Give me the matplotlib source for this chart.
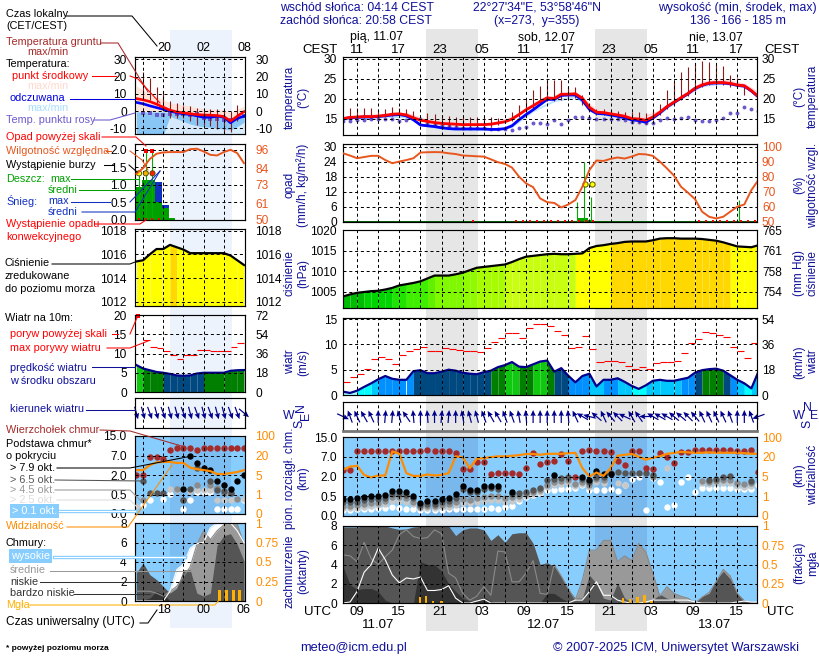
import matplotlib
matplotlib.use('Agg')
import matplotlib.pyplot as plt
import numpy as np
from matplotlib.patches import Rectangle

plt.rcParams['font.family'] = ['Liberation Sans', 'DejaVu Sans']
nan = np.nan

# --- main panels, hours since 07 UTC 11.07 ---
temp_mid = [15.0,15.3,15.4,15.5,15.5,15.6,15.8,16.1,16.2,15.9,15.2,14.6,14.3,14.0,13.8,13.7,13.6,13.5,13.5,13.5,
            13.5,13.6,13.9,14.2,14.9,16.0,17.2,18.2,19.3,20.2,20.0,21.1,21.1,21.2,20.1,17.8,16.6,16.5,16.2,15.9,
            15.6,15.0,14.9,14.6,15.4,16.6,18.0,19.1,20.2,21.3,22.6,23.4,23.9,24.0,24.0,23.8,23.4,23.2,22.0,20.5]
temp_feel = [15.0,15.2,15.3,15.4,15.4,15.5,15.7,15.9,16.0,15.7,14.7,13.4,13.2,13.0,12.7,12.5,12.4,12.4,12.4,12.4,
             12.4,12.3,12.3,12.5,13.2,14.7,16.0,17.2,18.5,19.8,19.8,20.8,20.9,20.9,19.6,17.3,16.3,16.2,15.9,15.6,
             15.2,14.7,14.5,14.1,15.1,16.4,17.9,19.0,20.1,21.2,22.5,23.3,23.8,23.9,23.9,23.7,23.3,23.1,21.9,20.4]
temp_band_h = [0,3,6,9,12,15,18,21,24,27,30,33,36,39,42,45,48,51,54,57,59]
temp_upper = [15.5,16.1,16.4,16.6,14.9,14.2,14.0,14.1,15.6,19.0,21.0,21.8,17.4,16.5,15.4,17.2,21.0,24.4,25.0,23.9,21.8]
temp_lower = [14.6,15.1,15.3,15.2,12.9,12.1,12.0,12.0,12.8,16.7,19.2,20.2,16.0,15.2,14.1,16.1,20.0,23.0,23.6,22.8,20.6]
dew_point = [14.4,14.4,14.6,14.7,14.9,15.0,15.0,14.8,14.5,14.7,15.1,14.9,14.0,13.6,13.4,13.1,12.9,12.7,12.6,12.6,
             12.6,12.5,12.4,12.3,12.2,12.6,13.0,13.8,13.8,13.6,14.6,13.6,14.6,15.4,15.4,15.2,15.0,15.0,15.0,15.0,
             14.6,14.2,14.2,14.0,14.0,14.7,15.2,15.0,15.2,15.5,14.6,14.3,14.3,14.6,15.2,16.5,16.5,17.9,17.4,17.0]
ground_max = [nan,17.75,17.75,17.75,17.75,17.25,17.5,17.9,17.75,17.5,16.9,nan,16.3,16.1,15.8,15.7,15.4,15.4,15.4,15.4,
              15.4,15.4,15.2,nan,16.7,18.3,19.6,22.1,23.1,24.6,24.6,24.75,22.9,22.9,20.8,18.75,17.5,17.5,17.1,16.9,
              16.7,16.7,16.7,16.4,16.9,18.75,22.1,24.2,26.7,27.9,29.0,29.3,29.2,28.75,28.1,25.8,25.25,22.9,nan,nan]
ground_min = [nan,15.0,15.1,15.2,15.2,15.2,15.4,15.7,15.8,15.5,14.6,nan,13.3,13.2,13.0,13.0,12.9,12.9,12.9,12.9,
              12.9,13.0,13.3,nan,14.4,15.5,16.6,17.6,18.6,19.5,19.3,19.6,20.0,20.2,18.5,17.2,15.9,15.8,15.5,15.2,
              14.8,14.2,14.0,13.6,14.7,15.9,17.4,18.5,19.6,20.7,22.0,22.9,23.3,23.4,23.4,22.9,22.6,21.0,nan,nan]
humidity = [95.5,94.0,92.2,93.0,93.8,93.8,91.0,88.9,90.0,91.0,92.2,96.0,96.2,96.3,96.2,95.5,95.0,94.0,93.8,93.5,
            93.3,91.5,89.6,88.4,86.0,80.0,75.5,73.0,65.5,63.0,62.5,59.5,61.5,64.4,73.3,84.4,90.7,90.4,91.8,92.7,
            92.0,93.3,95.0,94.8,93.8,90.0,85.5,80.7,73.3,69.3,65.0,56.7,53.3,52.2,53.3,56.7,60.0,61.5,71.0,77.8]
rain_max_h = [33.2,34.2,35.2,56.25]
rain_max = [8.0,23.7,10.0,8.7]
rain_mean_h = [33.8,34.3,35.0,36.3,37.2]
rain_mean = [1.3,1.3,0.5,0.4,0.3]
conv_h = [18.5,24.5,25.5,26.5,27.5,28.5,29.5,30.5,31.5,32.5,33.5,34.5,35.5,50.5,51.5,52.5,53.5,54.5,55.5,56.5,57.5,58.5]
storm_h = [34.4,35.4]
storm_mm = [15.0,15.0]
pressure = [1003.9,1004.4,1004.8,1005.0,1005.2,1005.3,1005.6,1006.0,1006.6,1006.9,1007.2,1007.6,1008.3,1009.0,1009.0,1009.0,
            1009.3,1009.7,1010.3,1010.9,1011.1,1011.3,1011.5,1011.7,1012.3,1013.0,1013.6,1013.8,1014.0,1014.2,1014.3,1014.2,
            1014.2,1014.3,1014.4,1015.7,1016.2,1016.4,1016.7,1016.9,1017.2,1017.3,1017.3,1017.3,1017.6,1018.0,1018.1,1018.1,
            1018.0,1018.0,1018.0,1017.9,1017.7,1017.5,1017.1,1016.6,1016.1,1016.0,1015.9,1016.4]
wind_speed = [0.66,0.4,0.85,1.6,2.3,3.1,3.75,3.2,3.0,3.0,4.7,4.9,4.3,4.3,4.6,5.0,4.8,4.4,4.2,4.1,
              4.5,4.8,5.5,5.9,6.5,5.6,5.5,6.05,6.6,6.8,4.6,5.3,3.8,2.5,3.75,4.2,1.7,3.0,3.0,3.3,
              2.6,1.8,1.2,1.9,2.8,3.0,2.8,2.8,3.1,3.4,4.4,4.9,5.1,5.2,4.8,3.9,3.0,2.3,1.3,4.6]
gust = [2.5,3.5,4.1,5.1,7.2,7.6,7.2,6.2,7.8,8.6,9.1,9.4,8.6,8.6,9.2,9.0,8.8,8.6,8.6,8.4,
        9.2,10.4,11.2,12.2,12.2,11.3,13.2,14.1,14.1,13.6,12.6,11.8,9.3,9.4,11.6,9.1,6.5,6.8,6.7,6.5,
        5.7,5.1,5.5,5.1,6.3,6.5,6.5,6.7,8.3,10.2,11.0,12.4,12.2,11.8,11.4,9.4,8.6,7.4,10.2]
wind_dir = [115,340,335,330,335,0,5,5,345,325,355,0,355,0,5,5,0,350,345,345,
            340,330,330,340,340,350,355,0,0,0,0,0,355,335,300,285,310,335,320,315,
            295,330,325,270,300,300,300,310,310,315,320,335,335,335,335,340,0,0,340,250]
# cloud levels: position on the uneven axis 0 / 0.5 / 2 / 7 / 15 km -> 0..4
cl_top = [2.34,2.34,3.3,3.3,3.3,3.3,3.3,3.3,3.3,3.3,3.3,3.3,3.35,3.3,3.3,3.3,3.2,2.4,2.38,2.73,
          2.73,2.14,2.17,2.17,2.17,2.14,2.42,3.2,2.63,2.73,2.76,3.14,2.76,2.0,3.3,3.36,3.3,3.3,3.25,2.76,
          2.56,3.3,3.3,2.42,2.37,3.2,2.98,2.68,3.25,3.25,3.32,3.32,3.32,3.32,3.32,3.32,3.3,3.27,3.32,2.25]
cl_black = [.86,.86,.9,.98,1.03,1.02,1.07,1.25,1.29,1.24,1.03,.68,.76,.78,.86,.9,1.12,1.5,1.32,1.32,
            1.5,1.53,1.5,nan,1.24,nan,nan,nan,nan,nan,2.08,nan,nan,nan,1.97,1.83,2.29,2.12,2.15,nan,
            nan,nan,nan,nan,nan,nan,nan,nan,nan,nan,nan,nan,nan,nan,nan,nan,nan,nan,nan,nan]
cl_dark = [.7,.7,.72,.8,.85,.85,.9,1.1,1.1,1.05,.9,.58,.62,.62,.7,.75,.9,1.35,1.2,1.2,
           1.35,1.4,1.35,nan,1.1,1.18,1.24,1.32,1.41,1.83,1.87,1.92,2.0,nan,1.85,1.7,2.0,1.95,2.17,2.22,
           2.17,2.17,2.17,2.17,2.08,nan,nan,nan,nan,nan,nan,nan,1.83,1.87,1.97,2.05,nan,nan,1.75,nan]
cl_gray = [.52,.52,.55,.62,.68,.68,.75,.95,.95,.9,.7,.48,.5,.5,.55,.6,.72,.85,.8,.9,
           .98,1.0,1.0,.9,.95,1.0,1.1,1.2,1.3,1.55,1.72,1.75,1.8,1.6,1.7,1.55,1.85,1.8,nan,nan,
           nan,nan,nan,nan,1.95,nan,nan,nan,nan,nan,nan,1.75,1.7,1.75,1.8,1.8,1.65,1.6,1.68,nan]
cl_light = [.4,.4,.42,.48,.52,.55,.6,.75,.75,.72,.6,.4,.42,.42,.45,.48,.55,.65,.65,.7,
            .78,.8,.8,.7,.75,.85,1.0,1.1,1.22,1.45,1.55,1.6,1.65,1.52,1.62,1.45,1.72,1.65,nan,1.65,
            1.58,nan,nan,nan,nan,nan,2.42,nan,nan,nan,nan,1.65,1.6,1.65,1.65,1.65,1.5,1.45,1.5,nan]
cl_white = [.3,.3,.34,.34,.34,.39,.42,.47,.42,.36,.34,.29,.3,.3,.32,.34,.34,.36,.36,.36,
            .36,.39,.36,.44,.5,.78,.98,1.07,1.15,1.32,1.32,1.36,1.36,1.44,1.58,1.32,1.32,1.32,1.36,1.29,
            1.58,1.86,1.95,.3,1.92,1.7,.47,.56,1.7,1.97,1.24,1.44,1.4,1.44,1.44,1.4,1.36,1.36,1.36,1.58]
visibility = [2.34,2.5,2.54,2.08,1.95,2.05,2.05,3.27,3.15,2.17,2.03,2.03,2.1,2.05,2.08,2.17,3.02,2.97,2.42,2.9,
              2.93,2.98,3.02,3.02,3.05,3.08,3.14,3.14,3.1,3.15,3.15,3.15,3.18,3.2,2.42,2.0,2.2,2.03,2.42,3.05,
              3.1,3.14,3.0,2.85,2.95,3.02,3.15,3.19,3.25,3.22,3.2,3.2,3.22,3.2,3.2,3.2,3.2,3.18,3.15,3.15]
cov_low = [7.9,7.9,7.9,8.0,8.0,8.0,8.0,7.8,7.65,7.7,7.9,7.95,8.0,8.0,8.0,8.0,7.0,7.6,7.8,7.8,
           7.6,6.5,7.1,6.3,7.2,7.3,7.3,6.2,4.0,4.2,3.8,2.7,1.4,0.5,0.5,2.9,2.0,0.5,0.3,2.1,
           0.5,0.1,0,0,0.3,0.9,0.5,0.3,0,0,0.1,0.7,1.0,2.4,3.3,2.5,1.0,0.3,0.1,0]
cov_mid = [5.0,4.9,4.3,6.3,4.6,4.0,4.8,5.5,7.1,7.6,6.9,6.7,6.8,7.6,7.2,3.1,2.6,1.0,0.3,0.7,
           1.7,0.8,5.4,5.3,2.2,2.2,3.1,4.4,1.0,0.9,4.0,2.8,1.5,0.3,2.4,5.5,5.5,6.5,6.5,4.3,
           4.9,4.4,6.2,5.3,3.1,0.7,1.7,1.0,0.7,0.5,0,0.6,1.1,2.2,3.5,2.8,1.0,0.2,0.1,0]
cov_high = [0,0.1,1.2,3.2,4.0,5.7,4.5,2.9,2.1,2.6,2.5,2.7,1.3,1.3,1.4,1.8,0.5,0,0,0.2,
            0.4,0,0,0,0,0,0,0,0,0,0,0,0,0.3,0.3,1.2,2.2,0.8,0.8,0.3,
            0.1,0,0,0.1,0.3,0.3,0.3,0.3,0.3,0.3,0.1,0,0,0,0,0,0.1,0.2,0.1,0.1]
cov_vlow = [3.8,1.9,1.4,1.5,1.5,1.2,0.3,0,0,0,0,4.3,4.0,4.0,3.3,2.0,1.2,0.5,0.2,0.3,
            0.6,0.2,0,0,0,0,0,0,0,1.0,1.0,0.5,0.1,0,0,0,0,0,0,0,
            0,0,0,0,0,0,0,0,0,0,0,0,0,0,0,0,0,0,0,0]
fog_h = [10.9,11.8,12.8,14.0,39.8,40.8,41.8,42.8,43.8]
fog_frac = [0.08,0.09,0.03,0.03,0.07,0.05,0.08,0.1,0.03]

# --- left panels (previous run), hours since 14 UTC ---
l_temp_mid = [7.2,6.5,5.5,4.0,2.2,0.5,-0.5,-1.0,-1.6,-2.0,-2.3,-2.4,-2.6,-3.2,-5.8,-3.0,-0.4]
l_temp_feel = [5.0,4.2,3.0,2.0,1.0,0.0,-1.0,-1.6,-2.0,-2.8,-3.6,-3.6,-3.0,-3.5,-6.8,-4.2,-3.0]
l_pink_top = [14.6,12.0,10.4,8.5,6.7,4.8,4.2,3.5,2.9,1.9,1.3,1.0,1.0,0.4,-1.0,1.0,2.9]
l_blue_top = [-0.5,-0.5,-0.5,-0.5,-0.5,-0.7,-1.5,-2.0,-2.5,-3.0,-3.6,-3.6,-3.5,-4.0,-7.0,-4.5,-3.0]
l_blue_low = [-14,-14,-14,-14,-14,-3,-4.5,-6,-7.5,-8.5,-9,-9.5,-10,-10.5,-11,-9,-6.5]
l_dew = [nan,-1.0,-1.0,-2.3,-2.3,-2.0,-1.8,-2.0,-2.3,-2.0,-3.8,-4.4,-4.8,-5.2,-5.2,-4.2,-2.9]
l_ground_max = [nan,22.7,19.0,14.2,11.5,6.0,4.8,2.9,2.9,1.9,1.3,1.3,1.0,1.0,0.0,3.4,nan]
l_ground_min = [nan,7.0,6.5,3.5,2.8,-3.8,-3.8,-3.8,-5.8,-8.2,-8.2,-8.6,-10.5,-12.0,-12.0,-5.8,nan]
l_humidity = [80.2,84.0,90.0,93.4,94.3,94.5,94.5,94.5,96.4,96.7,94.9,92.7,92.3,94.5,96.0,93.8,87.2]
l_rain = [0.95,1.15,1.15,0.5,0.35,0.07]
l_snow = [0,0,0,1.08,0.42,0]
l_rain_max_h = [0.4,1.4,2.4]
l_rain_max = [1.33,2.0,2.0]
l_storm_colors = ['#ffff00','#f0b000','#ff2000']
l_pressure = [1015.4,1015.5,1016.0,1016.45,1016.45,1016.8,1016.6,1016.4,1016.1,1016.1,1016.1,1016.1,1016.1,1016.1,1015.9,1015.5,1015.1]
l_wind = [7.0,6.1,5.65,5.2,5.0,4.7,4.3,4.2,4.3,4.8,5.0,5.0,5.0,5.0,5.5,5.65,5.7]
l_gust = [13.5,11.7,11.5,10.6,9.6,8.7,9.7,9.7,10.9,10.9,10.6,10.6,10.6,11.7,12.8]
l_dir = [165,165,160,165,160,165,165,160,165,160,165,160,165,165,160,160,130]
l_top = [2.0,2.0,2.9,2.9,2.8,3.26,3.36,3.36,3.36,3.26,3.36,3.36,3.36,3.36,3.36,3.36,3.36]
l_black = [nan,nan,nan,nan,nan,nan,nan,1.28,3.0,2.6,2.37,2.25,1.7,1.5,1.28,1.7,1.98]
l_dark = [nan,1.7,1.1,1.1,1.1,nan,nan,.7,1.28,2.37,nan,1.7,1.25,1.17,1.08,nan,nan]
l_gray = [nan,.7,nan,nan,nan,nan,1.28,.7,nan,1.5,nan,1.5,1.33,1.08,1.08,.77,nan]
l_light = [.42,nan,nan,nan,nan,1.28,1.25,nan,1.17,1.25,1.25,1.25,.7,.7,.7,nan,.77]
l_white = [nan,.47,.7,nan,.75,1.05,nan,.25,.7,1.13,1.13,1.13,.25,.25,.25,.25,.7]
l_vis = [2.25,2.25,2.5,2.65,2.67,2.67,2.62,2.62,2.38,2.3,2.25,2.2,2.05,2.05,2.1,2.15,2.25]
l_cov_low = [2.9,3.9,2.7,2.2,1.5,0.8,1.3,3.2,3.2,0.8,0.5,0.8,5.7,6.7,6.9,5.8,4.1]
l_cov_mid = [1.0,1.0,1.0,0.8,0.5,1.0,1.5,2.5,3.5,5.8,7.2,6.3,7.2,7.8,8.0,7.9,5.8]
l_cov_high = [0,0,0,0,0,1.0,3.2,3.8,5.4,5.9,6.0,7.5,8.0,8.0,8.0,7.2,6.0]
l_cov_vlow = [0,0.1,0.3,1.0,0.7,0,0,0,0,0,0,0,0,0,0,0,0]
l_fog_h = [12.4,13.4,14.4,15.4]
l_fog_frac = [0.145,0.145,0.145,0.145]

W, H = 820, 660
BLUE_BG = '#87CEFF'
NAVY = '#10109a'
ORANGE = '#ff8c00'
BROWN = '#a52a2a'
HUM = '#e8561e'
TICK = 8.6

fig = plt.figure(figsize=(W / 100, H / 100), dpi=100)

bg = fig.add_axes([0, 0, 1, 1], zorder=0)
bg.set_xlim(0, W)
bg.set_ylim(H, 0)
bg.axis('off')
bg.add_patch(Rectangle((426, 29), 52, 602, color='#e6e6e6', lw=0))
bg.add_patch(Rectangle((595, 29), 52, 602, color='#e6e6e6', lw=0))
bg.add_patch(Rectangle((170, 30), 62, 598, color='#edf3fd', lw=0))

top = fig.add_axes([0, 0, 1, 1], zorder=10)
top.set_xlim(0, W)
top.set_ylim(H, 0)
top.axis('off')
top.patch.set_alpha(0)


def panel(x0, y0, x1, y1, xlim, gridx, ylim, ticks, labels, rticks, rlabels, rcolor='black', padl=4.3, padr=3.6):
    ax = fig.add_axes([x0 / W, 1 - y1 / H, (x1 - x0) / W, (y1 - y0) / H], zorder=2)
    ax.patch.set_alpha(0)
    ax.set_xlim(*xlim)
    ax.set_ylim(*ylim)
    ax.set_xticks(gridx)
    ax.set_xticklabels([])
    ax.set_yticks(ticks)
    ax.set_yticklabels(labels, fontsize=TICK)
    ax.tick_params(length=0, pad=padl)
    ax.set_axisbelow(False)
    ax.grid(True, color='black', lw=0.72, ls=(0, (3, 2.8)))
    for s in ax.spines.values():
        s.set_linewidth(0.85)
        s.set_zorder(8)
    if rticks is not None:
        ar = ax.twinx()
        ar.set_ylim(*ylim)
        ar.set_yticks(rticks)
        ar.set_yticklabels(rlabels, fontsize=TICK, color=rcolor)
        ar.tick_params(length=0, pad=padr)
        for s in ar.spines.values():
            s.set_visible(False)
    return ax


MX = (343, 757)
LX = (135, 245)
mxlim = (0, 58.8)
lxlim = (-0.2, 16.15)
mgrid = list(range(2, 58, 3))
lgrid = [1, 4, 7, 10, 13]
mh = np.arange(60)
lh = np.arange(17)


def pres_color(v):
    limits = [1004, 1005, 1006, 1007, 1008, 1009, 1010, 1011, 1012, 1014.3, 1016.7]
    colors = ['#00a000', '#00bc00', '#00d400', '#20e400', '#40ee00', '#60f000', '#80f800', '#90fa00', '#a8fc00',
              '#c8ff10', '#ffff00']
    for lim, c in zip(limits, colors):
        if v < lim:
            return c
    return '#ffd800'


def wind_color(v):
    limits = [1, 2, 3, 4, 5, 6, 7]
    colors = ['#a0ffff', '#00ffff', '#00c8ff', '#0090ff', '#004880', '#007f00', '#10c810']
    for lim, c in zip(limits, colors):
        if v < lim:
            return c
    return '#00e000'


def columns(ax, x, vals, color_of, base):
    # aliased edges so neighbouring columns leave no pale seam
    for i in range(len(x) - 1):
        ax.fill_between(x[i:i + 2], base, vals[i:i + 2], color=color_of((vals[i] + vals[i + 1]) / 2), lw=0,
                        antialiased=False)


def draw_pressure(ax, x, vals, base):
    columns(ax, x, vals, pres_color, base)
    ax.plot(x, vals, color='black', lw=1.6)


def draw_wind(ax, x, vals, gusts, gx):
    columns(ax, x, vals, wind_color, 0)
    ax.plot(x, vals, color='#00008b', lw=1.6)
    ax.hlines(gusts, gx, np.array(gx) + 1, color='red', lw=0.8)


def draw_dir(ax, x, angles):
    a = np.radians(angles)
    ax.quiver(x, np.full(len(x), 0.5), 13 * np.sin(a), 13 * np.cos(a), angles='uv', scale=1, scale_units='dots',
              units='dots', width=1.2, headwidth=4.5, headlength=5, headaxislength=4.5, pivot='mid',
              color='#00008b', clip_on=False, zorder=5)


def draw_base(ax, x, top_, black, dark, gray, light, white, vis, ms):
    for vals, c in zip([white, light, gray, dark, black, top_],
                       ['white', '#c8c8c8', '#8c8c8c', '#555555', 'black', BROWN]):
        ax.plot(x, vals, ls='none', marker='o', ms=ms, mfc=c, mec=c, mew=0, clip_on=True)
    ax.plot(x, vis, color=ORANGE, lw=1.6)


def draw_cover(ax, x, high, mid, low, vlow):
    ax.fill_between(x, 0, high, color='white', lw=0)
    ax.fill_between(x, 0, mid, color='#999999', lw=0)
    ax.fill_between(x, 0, low, color='#555555', lw=0)
    ax.fill_between(x, 0, vlow, color='#333333', lw=0)
    ax.plot(x, mid, color='#8a8a8a', lw=0.8)
    ax.plot(x, high, color='white', lw=0.8)


# ---- main column
ax = panel(*[MX[0], 57, MX[1], 135], mxlim, mgrid, (10.9, 30.4), [15, 20, 25, 30], ['15', '20', '25', '30'],
           [15, 20, 25, 30], ['15', '20', '25', '30'])
ax.fill_between(temp_band_h, np.interp(temp_band_h, mh, temp_mid), temp_upper, color='#ffd9d9', lw=0)
ax.fill_between(temp_band_h, temp_lower, np.interp(temp_band_h, mh, temp_feel), color='#c0e4ff', lw=0)
ax.plot(mh, dew_point, ls='none', marker='o', ms=2.8, color='#6a5acd', mew=0)
ax.vlines(mh, ground_min, ground_max, color='#8b1a1a', lw=0.8)
ax.plot(mh, temp_feel, color='#0000ff', lw=2.0)
ax.plot(mh, temp_mid, color='#ff0000', lw=2.0)

ax = panel(MX[0], 144, MX[1], 222, mxlim, mgrid, (-0.1, 31), [0, 6, 12, 18, 24, 30],
           ['0', '6', '12', '18', '24', '30'], None, None)
ax.bar(rain_mean_h, rain_mean, width=1, color='#00a000', lw=0)
ax.axhline(0.1, color='#006000', lw=0.7)
ax.vlines(rain_max_h, 0, rain_max, color='#00b000', lw=0.8)
ax.plot(storm_h, storm_mm, ls='none', marker='o', ms=3.8, mfc='#ffff00', mec='#555500', mew=0.7, zorder=6)
ax.plot(conv_h, np.full(len(conv_h), 0.25), ls='none', marker='s', ms=1.9, color='red', mew=0)
ah = ax.twinx()
ah.set_ylim(50 - 0.1 * 5 / 3, 50 + 31 * 5 / 3)
ah.set_yticks([50, 60, 70, 80, 90, 100])
ah.set_yticklabels(['50', '60', '70', '80', '90', '100'], fontsize=TICK, color=HUM)
ah.tick_params(length=0, pad=3.6)
for s in ah.spines.values():
    s.set_visible(False)
ah.plot(mh, humidity, color=HUM, lw=1.4)

ax = panel(MX[0], 230, MX[1], 308, mxlim, mgrid, (1001.1, 1020.1), [1005, 1010, 1015, 1020],
           ['1005', '1010', '1015', '1020'], [1005, 1010, 1015, 1020], ['754', '758', '761', '765'])
draw_pressure(ax, mh, pressure, 1001.1)

ax = panel(MX[0], 318, MX[1], 395, mxlim, mgrid, (0, 15.2), [0, 5, 10, 15], ['0', '5', '10', '15'],
           [0, 5, 10, 15], ['0', '18', '36', '54'])
draw_wind(ax, mh, wind_speed, gust, mh[:-1])

ax = panel(MX[0], 402, MX[1], 431, mxlim, mgrid, (0, 1), [], [], None, None)
ax.spines['bottom'].set_color('#777777')
ax.spines['bottom'].set_linewidth(2)
draw_dir(ax, mh, wind_dir)

ax = panel(MX[0], 437, MX[1], 516, mxlim, mgrid, (0, 4), [0, 1, 2, 3, 4], ['0.0', '0.5', '2.0', '7.0', '15.0'],
           [0, 1, 2, 3, 4], ['0', '1', '5', '20', '100'], ORANGE)
ax.patch.set_alpha(1)
ax.set_facecolor(BLUE_BG)
ax.axvspan((426 - 343) / 7.04, (478 - 343) / 7.04, color='#4060a0', alpha=0.2, lw=0)
ax.axvspan((595 - 343) / 7.04, (647 - 343) / 7.04, color='#4060a0', alpha=0.2, lw=0)
draw_base(ax, mh, cl_top, cl_black, cl_dark, cl_gray, cl_light, cl_white, visibility, 4.6)

ax = panel(MX[0], 526, MX[1], 603, mxlim, mgrid, (0, 8), [0, 2, 4, 6, 8], ['0', '2', '4', '6', '8'],
           [0, 2, 4, 6, 8], ['0', '0.25', '0.5', '0.75', '1'], ORANGE)
ax.patch.set_alpha(1)
ax.set_facecolor(BLUE_BG)
ax.axvspan((426 - 343) / 7.04, (478 - 343) / 7.04, color='#4060a0', alpha=0.2, lw=0)
ax.axvspan((595 - 343) / 7.04, (647 - 343) / 7.04, color='#4060a0', alpha=0.2, lw=0)
draw_cover(ax, mh, cov_high, cov_mid, cov_low, cov_vlow)
ax.bar(fog_h, np.array(fog_frac) * 8, width=0.35, color='#ffb000', lw=0, zorder=6)

# ---- left column
LP = dict(padl=6, padr=7.5)
ax = panel(LX[0], 57, LX[1], 134, lxlim, lgrid, (-13.3, 31.3), [-10, 0, 10, 20, 30], ['-10', '0', '10', '20', '30'],
           [-10, 0, 10, 20, 30], ['-10', '0', '10', '20', '30'], **LP)
ax.fill_between(lh, l_blue_top, l_pink_top, color='#ffe0d4', alpha=0.85, lw=0)
ax.fill_between(lh, -14, l_blue_top, color='#cbe6fb', alpha=0.7, lw=0)
ax.fill_between(lh, l_blue_low, l_blue_top, color='#87c6f5', lw=0)
ax.plot(lh, l_dew, ls='none', marker='s', ms=2.6, color='#6a5acd', mew=0)
ax.vlines(lh, l_ground_min, l_ground_max, color='#8b1a1a', lw=0.8)
ax.plot(lh, l_temp_feel, color='#0000ff', lw=1.9)
ax.plot(lh, l_temp_mid, color='#ff0000', lw=1.9)

ax = panel(LX[0], 144, LX[1], 220, lxlim, lgrid, (0, 2.165), [0, 0.5, 1, 1.5, 2],
           ['0.0', '0.5', '1.0', '1.5', '2.0'], None, None, padl=6)
ax.bar(np.arange(6) + 0.3, l_snow, width=1, color='#1030c0', lw=0)
ax.bar(np.arange(6) + 0.3, l_rain, width=1, color='#00a000', lw=0)
ax.vlines(l_rain_max_h, 0, l_rain_max, color='#00b000', lw=0.8)
ax.plot(l_rain_max_h[1:], [1.97, 1.97], ls='none', marker='s', ms=2.4, color='red', mew=0, clip_on=False)
ax.scatter(l_rain_max_h, [1.33, 1.33, 1.33], s=14, c=l_storm_colors, edgecolors='#444400', linewidths=0.6, zorder=6)
ax.plot([0.4, 1.4, 2.4, 3.4], [0.03, 0.03, 0.03, 0.03], ls='none', marker='s', ms=1.9, color='red', mew=0)
ah = ax.twinx()
ah.set_ylim(50, 50 + 2.165 * 23)
ah.set_yticks([50, 61, 73, 84, 96])
ah.set_yticklabels(['50', '61', '73', '84', '96'], fontsize=TICK, color=HUM)
ah.tick_params(length=0, pad=7.5)
for s in ah.spines.values():
    s.set_visible(False)
ah.plot(lh, l_humidity, color=HUM, lw=1.4)

ax = panel(LX[0], 229, LX[1], 306, lxlim, lgrid, (1011.64, 1018.14), [1012, 1014, 1016, 1018],
           ['1012', '1014', '1016', '1018'], [1012, 1014, 1016, 1018], ['1012', '1014', '1016', '1018'], **LP)
draw_pressure(ax, lh, l_pressure, 1011.64)

ax = panel(LX[0], 315, LX[1], 392, lxlim, lgrid, (0, 20), [0, 5, 10, 15, 20], ['0', '5', '10', '15', '20'],
           [0, 5, 10, 15, 20], ['0', '18', '36', '54', '72'], **LP)
draw_wind(ax, lh, l_wind, l_gust, lh[1:16])
ax.plot([0.3], [19.8], ls='none', marker='s', ms=2.4, color='red', mew=0, clip_on=False)

ax = panel(LX[0], 398, LX[1], 428, lxlim, lgrid, (0, 1), [], [], None, None)
draw_dir(ax, lh, l_dir)

ax = panel(LX[0], 436, LX[1], 514, lxlim, lgrid, (0, 4), [0, 1, 2, 3, 4], ['0.0', '0.5', '2.0', '7.0', '15.0'],
           [0, 1, 2, 3, 4], ['0', '1', '5', '20', '100'], ORANGE, **LP)
ax.patch.set_alpha(1)
ax.set_facecolor(BLUE_BG)
ax.axvspan(5, 14.1, color='#4060a0', alpha=0.14, lw=0)
draw_base(ax, lh, l_top, l_black, l_dark, l_gray, l_light, l_white, l_vis, 4.6)

ax = panel(LX[0], 523, LX[1], 601, lxlim, lgrid, (0, 8), [0, 2, 4, 6, 8], ['0', '2', '4', '6', '8'],
           [0, 2, 4, 6, 8], ['0', '0.25', '0.5', '0.75', '1'], ORANGE, **LP)
ax.patch.set_alpha(1)
ax.set_facecolor(BLUE_BG)
ax.axvspan(5, 14.1, color='#4060a0', alpha=0.14, lw=0)
draw_cover(ax, lh, l_cov_high, l_cov_mid, l_cov_low, l_cov_vlow)
ax.bar(l_fog_h, np.array(l_fog_frac) * 8, width=0.45, color='#ffb000', lw=0, zorder=6)


# ---- texts
def T(x, y, s, c='black', ha='left', size=8.8, rot=0, **kw):
    top.text(x, y, s, color=c, ha=ha, va='center', fontsize=size, rotation=rot, **kw)


def L(x, y, s, c='black', **kw):
    T(x, y, s, c, size=7.8, **kw)


L(6, 14, 'Czas lokalny')
L(6, 26, '(CET/CEST)')
L(6, 42, 'Temperatura gruntu', BROWN)
L(27, 52, 'max/min', BROWN)
L(6, 64, 'Temperatura:')
L(12, 76, 'punkt środkowy', 'red')
L(27, 86, 'max/min', '#ffd8cf')
L(10, 98, 'odczuwana', '#0000e0')
L(27, 108, 'max/min', '#a8ddff')
L(6, 120, 'Temp. punktu rosy', '#6a5acd')
L(6, 137, 'Opad powyżej skali', 'red')
L(6, 151, 'Wilgotność względna', HUM)
L(6, 165, 'Wystąpienie burzy')
L(6, 179, 'Deszcz:', '#00a000')
L(50, 179, 'max', '#00a000')
L(48, 190, 'średni', '#00a000')
L(6, 201, 'Śnieg:', '#1030c0')
L(48, 201, 'max', '#1030c0')
L(48, 212, 'średni', '#1030c0')
L(6, 224, 'Wystąpienie opadu', 'red')
L(6, 237, 'konwekcyjnego', 'red')
L(5, 263, 'Ciśnienie')
L(5, 276, 'zredukowane')
L(5, 289, 'do poziomu morza')
L(5, 318, 'Wiatr na 10m:')
L(10, 334, 'poryw powyżej skali', 'red')
L(10, 348, 'max porywy wiatru', 'red')
L(10, 368, 'prędkość wiatru', NAVY)
L(10, 381, 'w środku obszaru', NAVY)
L(10, 409, 'kierunek wiatru', NAVY)
L(6, 430, 'Wierzchołek chmur', BROWN)
L(6, 444, 'Podstawa chmur*')
L(6, 456, 'o pokryciu')
L(10, 468, '> 7.9 okt.')
L(10, 480, '> 6.5 okt.', '#555555')
L(10, 490, '> 4.5 okt.', '#999999')
L(10, 500, '> 2.5 okt.', '#dddddd')
L(12, 511, '> 0.1 okt.', 'white', bbox=dict(fc=BLUE_BG, ec='none', pad=1.2))
L(6, 526, 'Widzialność', ORANGE)
L(6, 543, 'Chmury:')
L(11, 556, 'wysokie', 'white', bbox=dict(fc=BLUE_BG, ec='none', pad=1.2))
L(10, 570, 'średnie', '#999999')
L(10, 582, 'niskie', '#333333')
L(10, 593, 'bardzo niskie', '#333333')
L(6, 605, 'Mgła', '#ffb000')
T(6, 622, 'Czas uniwersalny (UTC)', size=8.6)
T(6, 648, '* powyżej poziomu morza', size=6.0, fontweight='bold')

for x, s in [(164, '20'), (204, '02'), (244, '08')]:
    T(x, 48, s, ha='center', size=9)
for x, s in [(164, '18'), (204, '00'), (244, '06')]:
    T(x, 610, s, ha='center', size=9)

callouts = [
    ('black', [(66, 16), (132, 16), (157, 46)]),
    (BROWN, [(101, 43), (118, 43), (148, 92)]),
    ('red', [(92, 76), (116, 76)]),
    ('red', [(130, 76), (138, 79), (160, 103)]),
    ('#0000e0', [(70, 99), (135, 99)]),
    ('#6a5acd', [(94, 120), (110, 120), (135, 113)]),
    ('red', [(102, 137), (136, 137), (146, 146)]),
    (HUM, [(106, 151), (111, 151)]),
    (HUM, [(130, 151), (142, 160), (148, 170)]),
    ('black', [(104, 165), (113, 165)]),
    ('black', [(129, 165), (137, 172)]),
    ('#00a000', [(71, 179), (139, 179)]),
    ('#00a000', [(79, 190), (145, 190)]),
    ('#1030c0', [(71, 202), (110, 202)]),
    ('#1030c0', [(130, 202), (160, 171)]),
    ('#1030c0', [(82, 212), (135, 212), (160, 171)]),
    ('red', [(95, 224), (140, 224), (146, 220)]),
    ('black', [(52, 264), (130, 264), (135, 262)]),
    ('red', [(112, 334), (118, 334)]),
    ('red', [(130, 334), (136, 320), (138, 316)]),
    ('red', [(107, 348), (130, 348), (148, 341)]),
    (NAVY, [(92, 367), (135, 367)]),
    (NAVY, [(86, 410), (135, 410)]),
    (BROWN, [(100, 430), (130, 431), (185, 447)]),
    ('black', [(57, 468), (130, 468), (192, 456)]),
    ('#555555', [(55, 480), (143, 481)]),
    ('#999999', [(55, 490), (130, 490), (140, 500)]),
    ('#dddddd', [(57, 500), (130, 500), (137, 507)]),
    (ORANGE, [(67, 527), (128, 527), (172, 465)]),
    ('#999999', [(50, 571), (190, 571)]),
    ('#333333', [(40, 582), (135, 582)]),
    ('#333333', [(74, 594), (150, 594)]),
    ('#ffb000', [(30, 605), (215, 605), (219, 600)]),
    ('black', [(140, 623), (148, 623), (157, 610)]),
]
for c, pts in callouts:
    top.plot(*zip(*pts), color=c, lw=0.75)
for x0, x1, y in [(57, 135, 511), (54, 185, 557)]:
    top.plot([x0, x1], [y, y], color=BLUE_BG, lw=2.4)
    top.plot([x0, x1], [y, y], color='white', lw=0.8)

# header
T(280, 8, 'wschód słońca: 04:14 CEST', NAVY)
T(280, 21, 'zachód słońca: 20:58 CEST', NAVY)
T(537, 8, "22°27'34''E, 53°58'46''N", NAVY, ha='center')
T(537, 21, '(x=273,  y=355)', NAVY, ha='center')
T(737, 8, 'wysokość (min, środek, max)', NAVY, ha='center')
T(738, 21, '136 - 166 - 185 m', NAVY, ha='center')
T(377, 37, 'pią, 11.07', ha='center')
T(547, 37, 'sob, 12.07', ha='center')
T(716, 37, 'nie, 13.07', ha='center')
T(320, 50, 'CEST', ha='center', size=9.5)
T(782, 50, 'CEST', ha='center', size=9.5)
for x, s in zip([357, 398, 440, 482, 524, 567, 609, 651, 693, 736],
                ['11', '17', '23', '05', '11', '17', '23', '05', '11', '17']):
    T(x, 50, s, ha='center', size=9.5)
for x, s in zip([357, 398, 440, 482, 524, 567, 609, 651, 693, 736],
                ['09', '15', '21', '03', '09', '15', '21', '03', '09', '15']):
    T(x, 612, s, ha='center', size=9.5)
T(318, 612, 'UTC', ha='center', size=9.5)
T(781, 612, 'UTC', ha='center', size=9.5)
T(378, 625, '11.07', ha='center', size=9.5)
T(544, 625, '12.07', ha='center', size=9.5)
T(715, 625, '13.07', ha='center', size=9.5)
T(300, 648, 'meteo@icm.edu.pl', NAVY, size=9.2)
T(553, 648, '© 2007-2025 ICM, Uniwersytet Warszawski', NAVY, size=9.2)

left_names = [(97, 'temperatura', '(°C)'), (185, 'opad', '(mm/h, kg/m²/h)'), (273, 'ciśnienie', '(hPa)'),
              (362, 'wiatr', '(m/s)'), (478, 'pion. rozciągł. chm.', '(km)'), (571, 'zachmurzenie', '(oktanty)')]
for y, a, b in left_names:
    T(290, y, a, NAVY, ha='center', rot=90, size=8.5)
    T(303, y, b, NAVY, ha='center', rot=90, size=8.5)
right_names = [(96, '(°C)', 'temperatura'), (185, '(%)', 'wilgotność wzgl.'), (273, '(mm Hg)', 'ciśnienie'),
               (362, '(km/h)', 'wiatr'), (475, '(km)', 'widzialność'), (563, '(frakcja)', 'mgła')]
for y, a, b in right_names:
    T(799, y, a, NAVY, ha='center', rot=90, size=8.5)
    T(813, y, b, NAVY, ha='center', rot=90, size=8.5)

# compass roses
T(289, 416, 'W', NAVY, ha='center')
T(301, 408, 'N', NAVY, ha='center', rot=90)
T(299, 424, 'S', NAVY, ha='center', rot=90)
T(306, 416, 'E', NAVY, ha='center', rot=90)
T(799, 416, 'W', NAVY, ha='center')
T(807, 408, 'N', NAVY, ha='center')
T(807, 424, 'S', NAVY, ha='center', rot=90)
T(814, 416, 'E', NAVY, ha='center')

fig.savefig('out.png', dpi=100)
